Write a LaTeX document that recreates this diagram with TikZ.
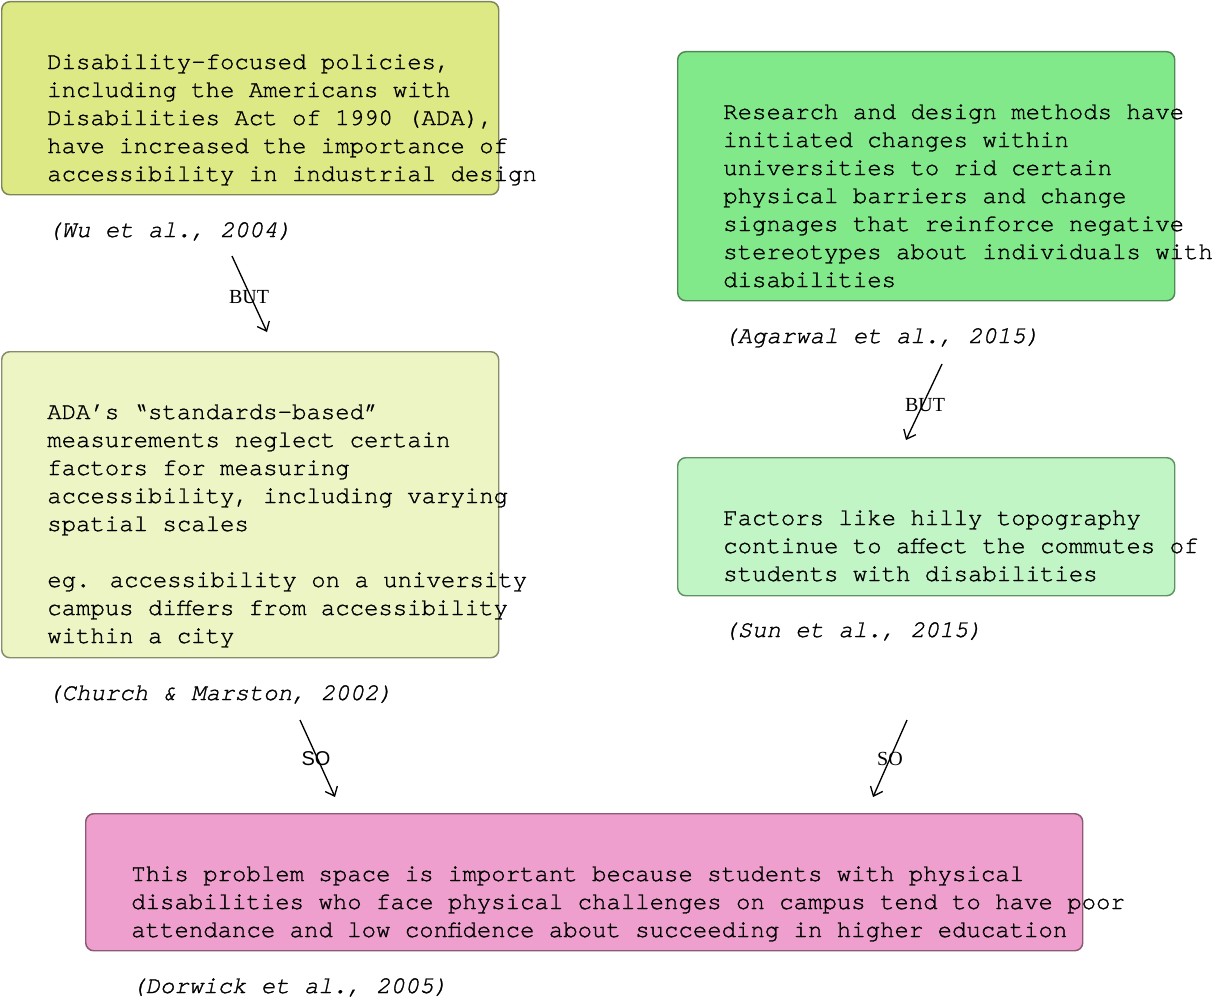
\documentclass[tikz,border=0pt]{standalone}
\usepackage{fontspec}
\setmainfont{Liberation Serif}
\newfontfamily\mono{texgyrecursor-regular.otf}[ItalicFont=texgyrecursor-italic.otf,FakeBold=1.2]
\newfontfamily\labsans{Liberation Sans}
\usetikzlibrary{arrows.meta}
\definecolor{c1f}{HTML}{DDE985}\definecolor{c1d}{HTML}{7F8554}
\definecolor{c2f}{HTML}{EEF5C5}\definecolor{c2d}{HTML}{878C6A}
\definecolor{c3f}{HTML}{82E98B}\definecolor{c3d}{HTML}{4E8A55}
\definecolor{c4f}{HTML}{C2F5C6}\definecolor{c4d}{HTML}{5E9462}
\definecolor{c5f}{HTML}{EE9FCE}\definecolor{c5d}{HTML}{8A5A73}
\tikzset{
  boxshape/.style={draw=#1d, fill=#1f, rectangle, rounded corners=6pt, line width=1.1pt, anchor=north west, inner sep=0pt},
  body/.style={anchor=base west, inner sep=0pt, align=left, font=\fontsize{18}{21}\selectfont\mono},
  cite/.style={anchor=base west, inner sep=0pt, font=\fontsize{18}{21}\selectfont\mono\itshape},
  conn/.style={line width=1pt, -{Straight Barb[length=6pt,width=10pt]}},
  lab/.style={inner sep=0pt, font=\fontsize{15}{17}\selectfont},
}
\begin{document}
\begin{tikzpicture}[x=0.75pt,y=-0.75pt]
\useasboundingbox (0,0) rectangle (1223,999);
% boxes
\node[boxshape=c1, minimum width=372.75pt, minimum height=144.75pt] (b1) at (1,1) {};
\node[boxshape=c2, minimum width=372.75pt, minimum height=229.5pt] (b2) at (1,351) {};
\node[boxshape=c3, minimum width=372.75pt, minimum height=186.75pt] (b3) at (677,51) {};
\node[boxshape=c4, minimum width=372.75pt, minimum height=103.5pt] (b4) at (677,457) {};
\node[boxshape=c5, minimum width=747.75pt, minimum height=102.75pt] (b5) at (85,813) {};
% texts (base anchor = baseline of last line)
\node[body] (t1) at (47,181) {Disability-focused policies,\\including the Americans with\\Disabilities Act of 1990 (ADA),\\have increased the importance of\\accessibility in industrial design};
\node[cite] (c1) at (47,237) {(Wu et al., 2004)};
\node[body] (t2) at (47,643) {ADA’s “standards-based”\\measurements neglect certain\\factors for measuring\\accessibility, including varying\\spatial scales\\[21pt]eg. accessibility on a university\\campus differs from accessibility\\within a city};
\node[cite] (c2) at (47,700) {(Church \& Marston, 2002)};
\node[body] (t3) at (723,287) {Research and design methods have\\initiated changes within\\universities to rid certain\\physical barriers and change\\signages that reinforce negative\\stereotypes about individuals with\\disabilities};
\node[cite] (c3) at (723,343) {(Agarwal et al., 2015)};
\node[body] (t4) at (723,581) {Factors like hilly topography\\continue to affect the commutes of\\students with disabilities};
\node[cite] (c4) at (723,637) {(Sun et al., 2015)};
\node[body] (t5) at (131,937) {This problem space is important because students with physical\\disabilities who face physical challenges on campus tend to have poor\\attendance and low confidence about succeeding in higher education};
\node[cite] (c5) at (131,993) {(Dorwick et al., 2005)};
% connectors
\coordinate (a1s) at (232,256); \coordinate (a1e) at (267,332);
\coordinate (a2s) at (942,364); \coordinate (a2e) at (906,440);
\coordinate (a3s) at (300,720); \coordinate (a3e) at (335,797);
\coordinate (a4s) at (907,720); \coordinate (a4e) at (873,797);
\draw[conn] (a1s) -- (a1e);
\draw[conn] (a2s) -- (a2e);
\draw[conn] (a3s) -- (a3e);
\draw[conn] (a4s) -- (a4e);
\node[lab] (l1) at (249,297) {BUT};
\node[lab] (l2) at (925,405) {BUT};
\node[lab, font=\fontsize{15}{17}\selectfont\labsans] (l3) at (316,759) {SO};
\node[lab] (l4) at (890,759) {SO};
\end{tikzpicture}
\end{document}
